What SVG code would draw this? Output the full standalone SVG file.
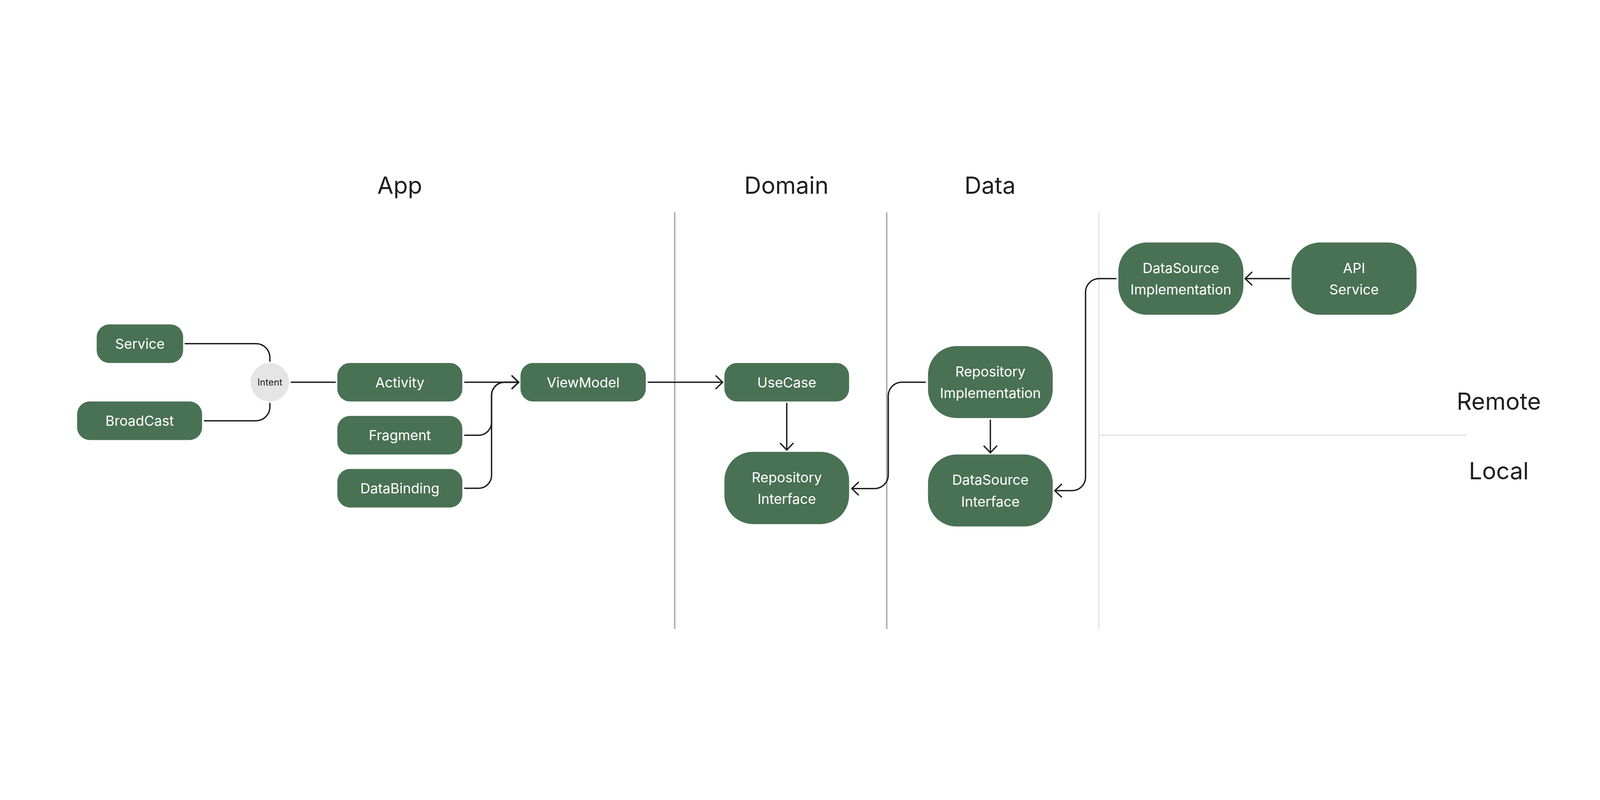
<svg xmlns="http://www.w3.org/2000/svg" width="5312" height="2048" viewBox="0 0 5312 2048">
<style>
svg{max-width:100vw;max-height:100vh}
.bg{fill:#ffffff}
.node{fill:#497154}
.lbl{font-family:Inter,"Noto Sans","Liberation Sans",sans-serif;font-size:46px;fill:#ffffff;text-anchor:middle}
.title{font-family:Inter,"Noto Sans","Liberation Sans",sans-serif;font-size:78px;fill:#1e1e1e;text-anchor:middle}
.sep{stroke:#b0b0b0;stroke-width:5;stroke-linecap:round;fill:none}
.sep2{stroke:#e6e6e6;stroke-width:5;stroke-linecap:round;fill:none}
.con{stroke:#1e1e1e;stroke-width:4.5;stroke-linecap:round;stroke-linejoin:round;fill:none}
.intent{fill:#e5e5e5}
.ilbl{font-family:Inter,"Noto Sans","Liberation Sans",sans-serif;font-size:31px;fill:#1e1e1e;text-anchor:middle}
</style>
<defs>
<marker id="arr" markerUnits="userSpaceOnUse" viewBox="-30 -30 40 60" markerWidth="40" markerHeight="60" refX="0" refY="0" orient="auto">
<path d="M-22,-21 L0,0 L-22,21" fill="none" stroke="#1e1e1e" stroke-width="4.5" stroke-linecap="round" stroke-linejoin="round"/>
</marker>
</defs>
<rect class="bg" x="0" y="0" width="5312" height="2048"/>

<g id="titles">
<text class="title" x="1327" y="339">App</text>
<text class="title" x="2611" y="339">Domain</text>
<text class="title" x="3287" y="339">Data</text>
<text class="title" x="4976" y="1057">Remote</text>
<text class="title" x="4976" y="1287">Local</text>
</g>

<g id="separators">
<line class="sep" x1="2240" y1="403" x2="2240" y2="1782"/>
<line class="sep" x1="2944" y1="403" x2="2944" y2="1782"/>
<line class="sep2" x1="3648" y1="403" x2="3648" y2="1782"/>
<line class="sep2" x1="3648" y1="1141" x2="4866" y2="1141"/>
</g>

<g id="connectors">
<path class="con" d="M615,837 H850 A46,46 0 0 1 896,883 V895"/>
<path class="con" d="M679,1093 H850 A46,46 0 0 0 896,1047 V1035"/>
<path class="con" d="M967,965 H1113"/>
<path class="con" d="M1543,965 H1722" marker-end="url(#arr)"/>
<path class="con" d="M1543,1141 H1589 A43,43 0 0 0 1632,1098 V1008 A43,43 0 0 1 1675,965 H1722" marker-end="url(#arr)"/>
<path class="con" d="M1543,1317 H1589 A43,43 0 0 0 1632,1274 V1008 A43,43 0 0 1 1675,965 H1722" marker-end="url(#arr)"/>
<path class="con" d="M2152,965 H2399" marker-end="url(#arr)"/>
<path class="con" d="M2612,1035 V1190" marker-end="url(#arr)"/>
<path class="con" d="M3072,965 H2994 A45,45 0 0 0 2949,1010 V1273 A45,45 0 0 1 2904,1318 H2828" marker-end="url(#arr)"/>
<path class="con" d="M3288,1091 V1199" marker-end="url(#arr)"/>
<path class="con" d="M3705,621 H3649 A45,45 0 0 0 3604,666 V1280 A45,45 0 0 1 3559,1325 H3502" marker-end="url(#arr)"/>
<path class="con" d="M4281,621 H4134" marker-end="url(#arr)"/>
</g>

<g id="node-service">
<rect class="node" x="321" y="773" width="287" height="128" rx="42"/>
<text class="lbl" x="464.5" y="854">Service</text>
</g>
<g id="node-broadcast">
<rect class="node" x="256" y="1029" width="415" height="128" rx="42"/>
<text class="lbl" x="463.5" y="1110">BroadCast</text>
</g>
<g id="node-intent">
<circle class="intent" cx="896" cy="965" r="64"/>
<text class="ilbl" x="896" y="976">Intent</text>
</g>
<g id="node-activity">
<rect class="node" x="1120" y="901" width="415" height="128" rx="42"/>
<text class="lbl" x="1327.5" y="982">Activity</text>
</g>
<g id="node-fragment">
<rect class="node" x="1120" y="1077" width="415" height="128" rx="42"/>
<text class="lbl" x="1327.5" y="1158">Fragment</text>
</g>
<g id="node-databinding">
<rect class="node" x="1120" y="1253" width="415" height="128" rx="42"/>
<text class="lbl" x="1327.5" y="1334">DataBinding</text>
</g>
<g id="node-viewmodel">
<rect class="node" x="1728" y="901" width="416" height="128" rx="42"/>
<text class="lbl" x="1936" y="982">ViewModel</text>
</g>
<g id="node-usecase">
<rect class="node" x="2405" y="901" width="414" height="128" rx="42"/>
<text class="lbl" x="2612" y="982">UseCase</text>
</g>
<g id="node-repository-interface">
<rect class="node" x="2405" y="1196" width="414" height="240" rx="95"/>
<text class="lbl" x="2612" y="1297">Repository</text>
<text class="lbl" x="2612" y="1369">Interface</text>
</g>
<g id="node-repository-implementation">
<rect class="node" x="3081" y="845" width="414" height="239" rx="95"/>
<text class="lbl" x="3288" y="946">Repository</text>
<text class="lbl" x="3288" y="1018">Implementation</text>
</g>
<g id="node-datasource-interface">
<rect class="node" x="3081" y="1205" width="414" height="239" rx="95"/>
<text class="lbl" x="3288" y="1306">DataSource</text>
<text class="lbl" x="3288" y="1378">Interface</text>
</g>
<g id="node-datasource-implementation">
<rect class="node" x="3713" y="501" width="415" height="240" rx="95"/>
<text class="lbl" x="3920.5" y="602">DataSource</text>
<text class="lbl" x="3920.5" y="674">Implementation</text>
</g>
<g id="node-api-service">
<rect class="node" x="4288" y="501" width="415" height="240" rx="95"/>
<text class="lbl" x="4495.5" y="602">API</text>
<text class="lbl" x="4495.5" y="674">Service</text>
</g>
</svg>
